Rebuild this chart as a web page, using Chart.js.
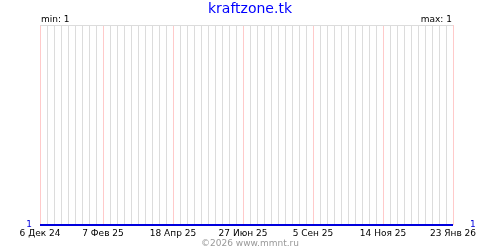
<!DOCTYPE html>
<html>
<head>
<meta charset="utf-8">
<script src="https://cdn.jsdelivr.net/npm/chart.js@4"></script>
<style>
body{margin:0;width:500px;height:250px;position:relative;background:#fff;font-family:"DejaVu Sans";overflow:hidden}
#wrap{position:absolute;left:0;top:0;width:500px;height:250px}
.t{position:absolute;white-space:nowrap;font-size:9px;line-height:9px;color:#000}
</style>
</head>
<body>
<div id="wrap"><canvas id="visitsChart" width="500" height="250"></canvas></div>
<div class="t" style="left:0;width:500px;text-align:center;top:1px;font-size:14px;line-height:14px;color:#0000ff">kraftzone.tk</div>
<div class="t" id="minLabel" style="left:41px;top:15px"></div>
<div class="t" id="maxLabel" style="right:48px;top:15px"></div>
<div class="t" style="left:0;width:500px;text-align:center;top:239px;color:#999">©2026 www.mmnt.ru</div>
<script>
// подписи оси X и их смещение в днях от 6 Дек 24
const tickLabels = ['6 Дек 24', '7 Фев 25', '18 Апр 25', '27 Июн 25', '5 Сен 25', '14 Ноя 25', '23 Янв 26'];
const tickDays = [0, 63, 133, 203, 273, 343, 413];
const visits = [1, 1, 1, 1, 1, 1, 1];
const minValue = 1;
const maxValue = 1;

document.getElementById('minLabel').textContent = 'min: ' + minValue;
document.getElementById('maxLabel').textContent = 'max: ' + maxValue;

const font = { family: 'DejaVu Sans', size: 9 };
const lastDay = tickDays[tickDays.length - 1];

const yTicks = function (scale) {
    scale.ticks = [{ value: minValue }, { value: minValue + 1 }];
};

new Chart(document.getElementById('visitsChart').getContext('2d'), {
    type: 'line',
    data: {
        datasets: [
            {
                data: tickDays.map((d, i) => ({ x: d, y: visits[i] })),
                borderColor: '#0000dd',
                borderWidth: 2,
                pointRadius: 0,
                clip: false,
                yAxisID: 'y',
            },
        ],
    },
    options: {
        responsive: false,
        animation: false,
        layout: { padding: { top: 25 } },
        plugins: {
            legend: { display: false },
            tooltip: { enabled: false },
        },
        scales: {
            x: {
                type: 'linear',
                min: 0,
                max: lastDay,
                afterBuildTicks: function (scale) {
                    scale.ticks = [];
                    for (let d = 0; d <= lastDay; d += 7) scale.ticks.push({ value: d });
                },
                afterFit: function (scale) { scale.height = 25; },
                ticks: {
                    autoSkip: false,
                    maxRotation: 0,
                    padding: 3,
                    color: '#000',
                    font: font,
                    callback: function (v) {
                        const i = tickDays.indexOf(v);
                        return i >= 0 ? tickLabels[i] : '';
                    },
                },
                grid: {
                    drawTicks: false,
                    color: ctx => tickDays.includes(ctx.tick.value) ? '#ffcaca' : '#dcdcdc',
                },
                border: { display: false },
            },
            y: {
                position: 'left',
                min: minValue,
                max: minValue + 1,
                afterBuildTicks: yTicks,
                afterFit: function (scale) { scale.width = 40; },
                ticks: {
                    padding: 8,
                    color: '#0000dd',
                    font: font,
                    callback: v => v === minValue ? String(minValue) : '',
                },
                grid: {
                    drawTicks: false,
                    color: ctx => ctx.tick.value === minValue + 1 ? '#dcdcdc' : 'rgba(0,0,0,0)',
                },
                border: { display: false },
            },
            y2: {
                position: 'right',
                min: minValue,
                max: minValue + 1,
                afterBuildTicks: yTicks,
                afterFit: function (scale) { scale.width = 47; },
                ticks: {
                    padding: 9,
                    color: '#0000dd',
                    font: font,
                    callback: v => v === maxValue ? String(maxValue) : '',
                },
                grid: { display: false },
                border: { display: false },
            },
        },
    },
});
</script>
</body>
</html>
